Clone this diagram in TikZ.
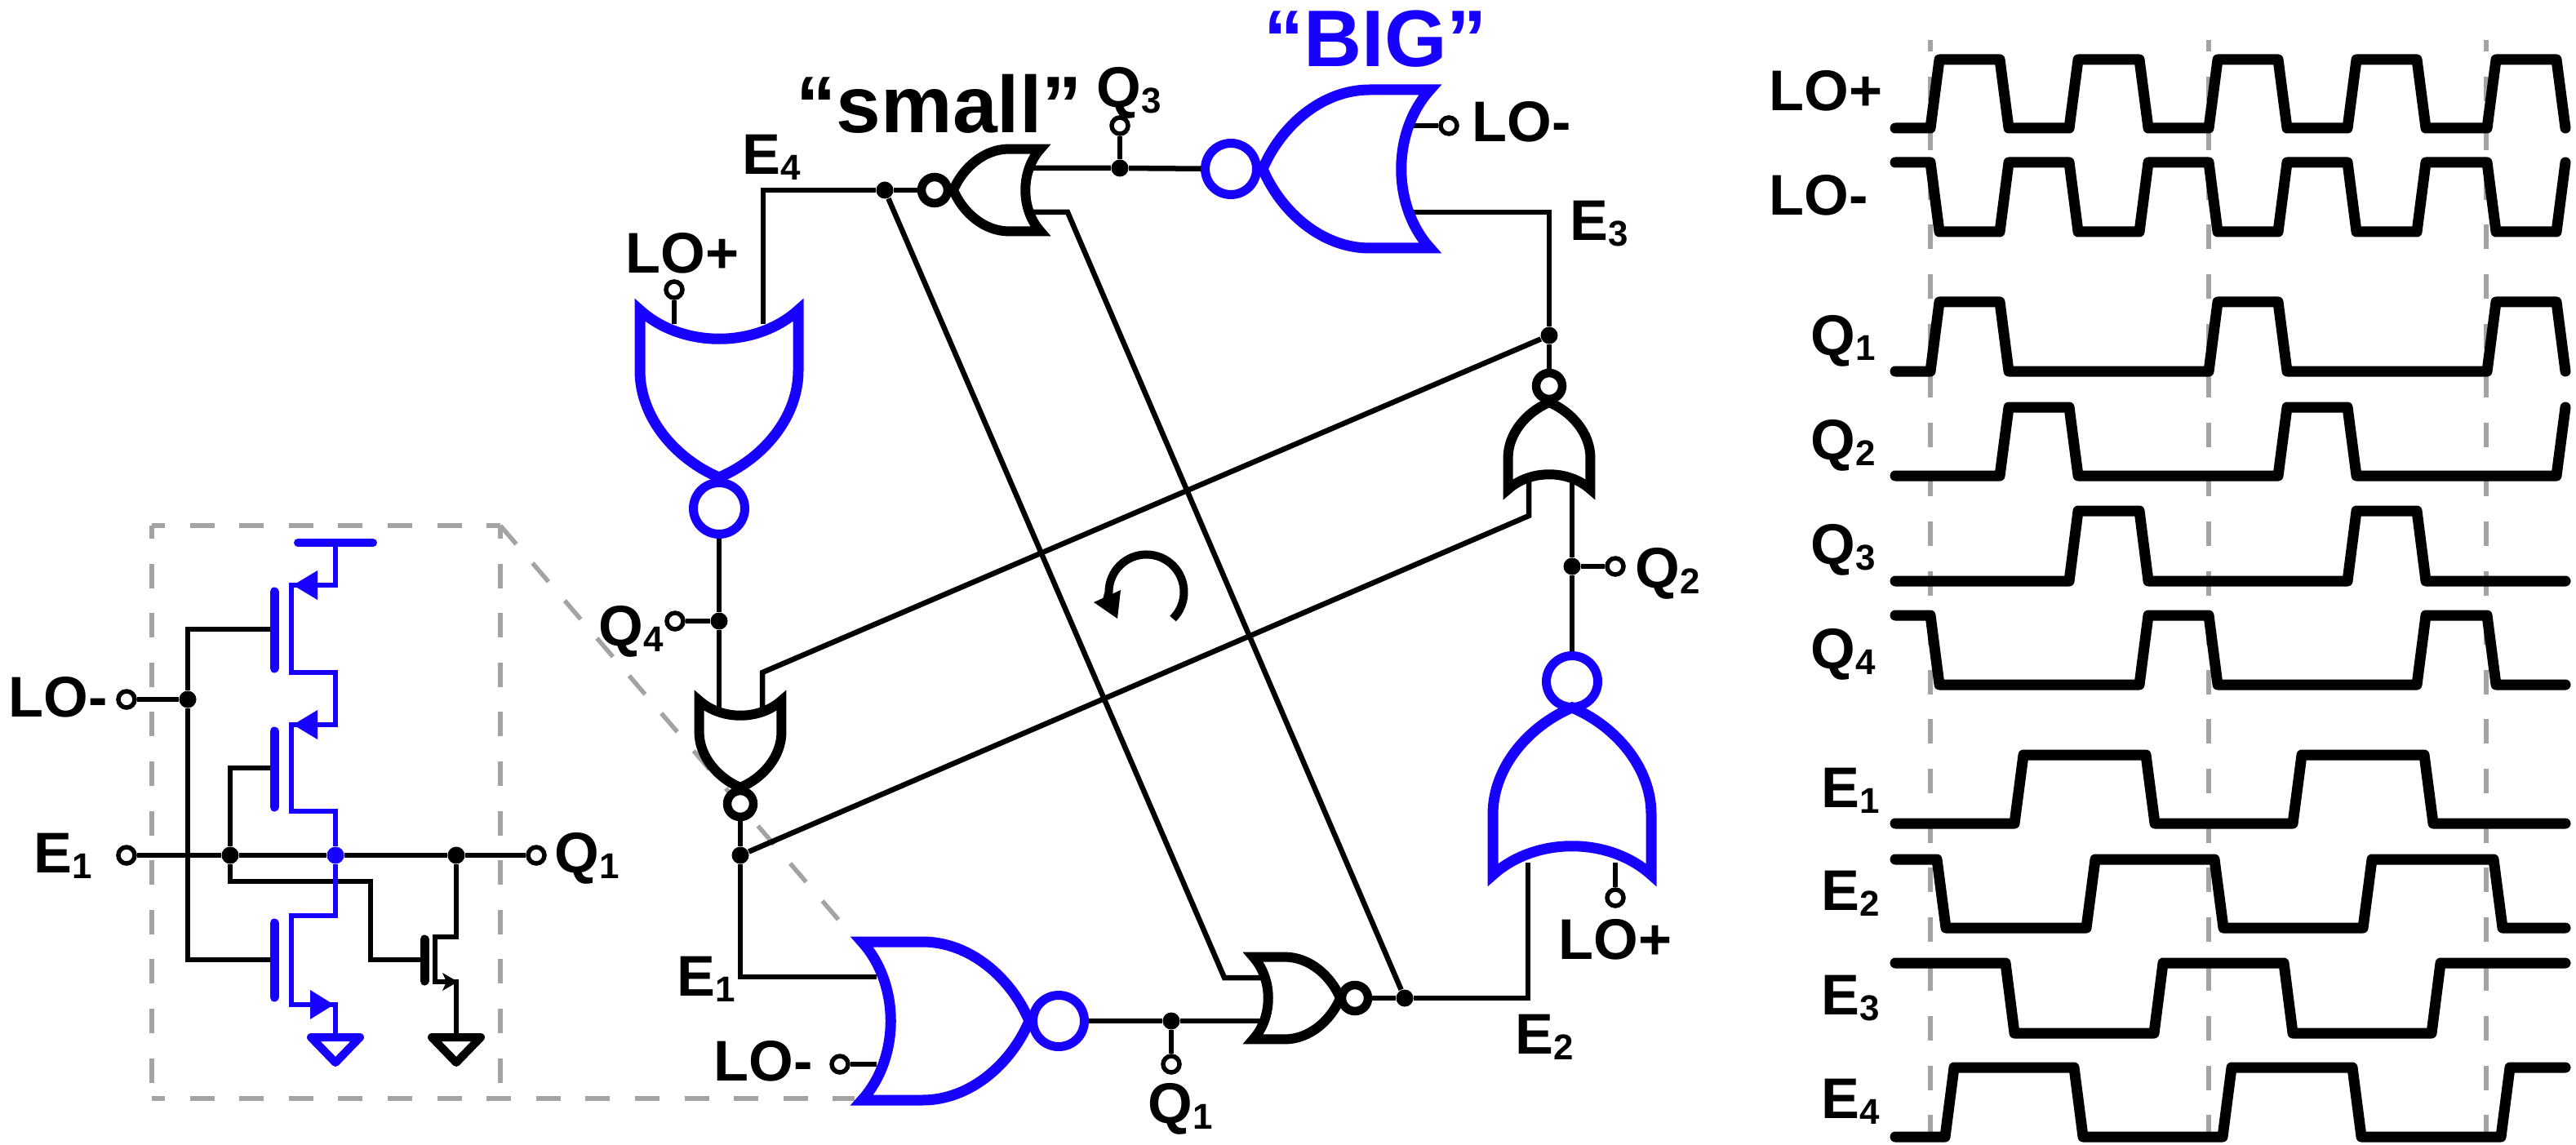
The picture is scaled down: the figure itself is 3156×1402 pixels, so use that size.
\documentclass[tikz,border=0pt]{standalone}
\usepackage{fontspec}
\setmainfont{Liberation Sans}
\definecolor{nblue}{HTML}{1800FF}
\definecolor{dashgray}{HTML}{A3A3A3}
\newcommand{\lsub}[2]{#1\raisebox{-0.7mm}{\fontsize{12.5}{12.5}\selectfont #2}}
\tikzset{
  norgate/.pic = {
    \draw[pic actions] (-131,97) .. controls (-72,97) and (-22,52) .. (0,0)
      .. controls (-22,-52) and (-72,-97) .. (-131,-97) -- (-205,-97)
      .. controls (-158,-45) and (-158,45) .. (-205,97) -- cycle;
  },
  gndmark/.pic = {
    \draw[pic actions] (-30,0) -- (30,0) -- (0,31) -- cycle;
  }
}
\begin{document}
\begin{tikzpicture}[x=0.1mm, y=-0.1mm,
  wire/.style = {draw, line width=0.65mm, line join=miter},
  bwire/.style = {wire, nblue},
  biggate/.style = {draw=nblue, line width=1.3mm, miter limit=10},
  smallgate/.style = {draw=black, line width=1.2mm, miter limit=10, scale=0.52},
  bigbub/.style = {circle, draw=nblue, fill=white, line width=1.1mm, minimum size=6.3mm, inner sep=0pt},
  smallbub/.style = {circle, draw=black, fill=white, line width=1.05mm, minimum size=3.2mm, inner sep=0pt},
  opin/.style = {circle, draw, fill=white, line width=0.55mm, minimum size=2mm, inner sep=0pt},
  jdot/.style = {circle, fill=black, minimum size=2.1mm, inner sep=0pt},
  gbar/.style = {line width=1.1mm, line cap=round},
  gnd/.style = {line width=1mm, line join=round},
  lab/.style = {anchor=base west, inner sep=0pt, font=\fontsize{20}{20}\selectfont\bfseries},
  biglab/.style = {anchor=base west, inner sep=0pt, font=\fontsize{28}{28}\selectfont\bfseries},
  gdash/.style = {draw=dashgray, line width=0.55mm, dash pattern=on 3mm off 3.06mm},
  wave/.style = {draw, line width=1.3mm, line join=round, line cap=round}]
\useasboundingbox (0,0) rectangle (3156,1402);

\draw[gdash, dash phase=1.4mm] (186,644) -- (613,644);
\draw[gdash, dash phase=1.4mm] (186,644) -- (186,1346);
\draw[gdash, dash phase=1.4mm] (613,644) -- (613,1346);
\draw[gdash, dash phase=1.4mm] (186,1346) -- (1047,1346);
\draw[gdash] (613,644) -- (1047,1150);
\foreach \x in {2365,2706,3046}
  \draw[gdash, dash phase=1.6mm] (\x,49) -- (\x,1387);

\node[opin] (pLOi) at (155,857) {};
\node[jdot] (jLOi) at (230,857) {};
\node[opin] (pEi) at (155,1048) {};
\node[jdot] (jEi) at (282,1048) {};
\node[jdot, fill=nblue] (jMi) at (411,1048) {};
\node[jdot] (jQi) at (559,1048) {};
\node[opin] (pQi) at (657,1048) {};
\coordinate (gP1) at (336,771);
\coordinate (gP2) at (336,941);
\coordinate (gN1) at (336,1176);
\coordinate (gN2) at (520,1176);
\coordinate (cN2) at (454,1080);
\coordinate (vddB) at (411,665);
\coordinate (gndB) at (411,1271);
\coordinate (gndK) at (559,1271);
\draw[wire] (pLOi) -- (jLOi);
\draw[wire] (gP1) -| (jLOi) |- (gN1);
\draw[wire] (pEi) -- (jEi) -- (jMi) -- (jQi) -- (pQi);
\draw[wire] (gP2) -| (jEi);
\draw[wire] (jEi) |- (cN2) |- (gN2);
\draw[bwire] (vddB) |- (357,717) -- (357,824) -- (411,824) -- (411,888) -- (357,888)
  -- (357,994) -- (411,994) -- (jMi);
\draw[bwire] (jMi) -- (411,1122) -- (357,1122) -- (357,1231) -- (411,1231) -- (gndB);
\draw[wire] (jQi) |- (533,1148) -- (533,1203) -- (559,1203) -- (gndK);
\draw[gbar, nblue] (336,725) -- (336,819);
\draw[gbar, nblue] (336,896) -- (336,989);
\draw[gbar, nblue] (336,1131) -- (336,1222);
\draw[gbar] (520,1151) -- (520,1202);
\draw[gbar, nblue, line width=1mm] (365,665) -- (457,665);
\fill[nblue] (359,717) -- (389,699) -- (389,735) -- cycle;
\fill[nblue] (359,888) -- (389,870) -- (389,906) -- cycle;
\fill[nblue] (409,1231) -- (380,1213) -- (380,1249) -- cycle;
\fill (561,1203) -- (542,1192) -- (547,1203) -- (542,1214) -- cycle;
\pic[gnd, draw=nblue] at (gndB) {gndmark};
\pic[gnd, draw=black] at (gndK) {gndmark};

\node[bigbub] (bL) at (881,623) {};
\node[bigbub] (bT) at (1508,207) {};
\node[bigbub] (bR) at (1926,835) {};
\node[bigbub] (bB) at (1297,1251) {};
\node[smallbub] (sT) at (1145,233) {};
\node[smallbub] (sL) at (907,985) {};
\node[smallbub] (sR) at (1898,473) {};
\node[smallbub] (sB) at (1660,1223) {};
\node[jdot] (jQ4) at (881,761) {};
\node[opin] (pQ4) at (827,761) {};
\node[jdot] (jE1) at (907,1048) {};
\node[jdot] (jE4) at (1084,233) {};
\node[jdot] (jE3) at (1898,411) {};
\node[jdot] (jQ3) at (1372,206) {};
\node[opin] (pQ3) at (1372,154) {};
\node[jdot] (jQ2) at (1926,694) {};
\node[opin] (pQ2) at (1979,694) {};
\node[jdot] (jE2) at (1721,1223) {};
\node[jdot] (jQ1) at (1435,1251) {};
\node[opin] (pQ1) at (1435,1304) {};
\node[opin] (pLOa) at (826,355) {};
\node[opin] (pLOb) at (1775,154) {};
\node[opin] (pLOc) at (1979,1100) {};
\node[opin] (pLOd) at (1029,1304) {};
\coordinate (iLa) at (881,868);
\coordinate (iLb) at (934,868);
\coordinate (cLb) at (934,824);
\coordinate (iLc) at (826,397);
\coordinate (iLe) at (935,397);
\coordinate (iBa) at (1074,1197);
\coordinate (iBb) at (1074,1304);
\coordinate (cRa) at (1873,632);
\coordinate (iRa) at (1873,587);
\coordinate (iRb) at (1926,585);
\coordinate (iRc) at (1872,1057);
\coordinate (iRd) at (1979,1057);
\coordinate (iTa) at (1732,260);
\coordinate (iTb) at (1732,154);
\coordinate (iTc) at (1264,206);
\coordinate (iTd) at (1264,260);
\coordinate (cTd) at (1308,260);
\coordinate (cSa) at (1500,1198);
\coordinate (iSa) at (1547,1198);
\coordinate (iSb) at (1547,1251);
\draw[wire] (bL) -- (jQ4) -- (iLa);
\draw[wire] (pQ4) -- (jQ4);
\draw[wire] (iLb) -- (cLb) -- (jE3);
\draw[wire] (sL) -- (jE1);
\draw[wire] (jE1) |- (iBa);
\draw[wire] (jE1) -- (cRa) -- (iRa);
\draw[wire] (jE3) -- (sR);
\draw[wire] (jE3) |- (iTa);
\draw[wire] (iRb) -- (jQ2) -- (bR);
\draw[wire] (jQ2) -- (pQ2);
\draw[wire] (iLe) |- (jE4);
\draw[wire] (jE4) -- (sT);
\draw[wire] (pLOa) -- (iLc);
\draw[wire] (jE4) -- (cSa) -- (iSa);
\draw[wire] (sB) -- (jE2);
\draw[wire] (jE2) -| (iRc);
\draw[wire] (jE2) -- (cTd) -- (iTd);
\draw[wire] (iTc) -- (jQ3) -- (bT);
\draw[wire] (jQ3) -- (pQ3);
\draw[wire] (pLOb) -- (iTb);
\draw[wire] (bB) -- (jQ1) -- (iSb);
\draw[wire] (jQ1) -- (pQ1);
\draw[wire] (pLOd) -- (iBb);
\draw[wire] (pLOc) -- (iRd);
\pic[biggate, rotate=-90] at (881,585) {norgate};
\pic[biggate, rotate=180] at (1547,207) {norgate};
\pic[biggate, rotate=90] at (1926,867) {norgate};
\pic[biggate] at (1261,1251) {norgate};
\pic[smallgate, rotate=180] at (1168,233) {norgate};
\pic[smallgate, rotate=-90] at (907,965) {norgate};
\pic[smallgate, rotate=90] at (1898,493) {norgate};
\pic[smallgate] at (1642,1223) {norgate};
\draw[line width=1mm] (1437,758) arc[start angle=45, end angle=-180, radius=46] -- (1356,735);
\fill (1340,738) -- (1373,723) -- (1369,758) -- cycle;

\node[lab] (tLOi) at (10,878) {LO-};
\node[lab] (tEi) at (41,1069) {\lsub{E}{1}};
\node[lab] (tQi) at (679,1069) {\lsub{Q}{1}};
\node[lab] (tQ4) at (733,791) {\lsub{Q}{4}};
\node[lab] (tE1) at (829,1220) {\lsub{E}{1}};
\node[lab] (tLOd) at (874,1324) {LO-};
\node[lab] (tQ1) at (1406,1376) {\lsub{Q}{1}};
\node[lab] (tE2) at (1856,1291) {\lsub{E}{2}};
\node[lab] (tLOc) at (1909,1175) {LO+};
\node[lab] (tQ2) at (2003,720) {\lsub{Q}{2}};
\node[lab] (tQ3) at (1343,132) {\lsub{Q}{3}};
\node[lab] (tE3) at (1923,295) {\lsub{E}{3}};
\node[lab] (tE4) at (909,214) {\lsub{E}{4}};
\node[lab] (tLOa) at (766,335) {LO+};
\node[lab] (tLOb) at (1803,174) {LO-};
\node[biglab] (tsmall) at (975,163) {“small”};
\node[biglab, text=nblue] (tbig) at (1548,82) {“BIG”};

\node[lab] (wLOp) at (2167,136) {LO+};
\node[lab] (wLOm) at (2167,264) {LO-};
\node[lab] (wQ1) at (2218,435) {\lsub{Q}{1}};
\node[lab] (wQ2) at (2218,563) {\lsub{Q}{2}};
\node[lab] (wQ3) at (2218,691) {\lsub{Q}{3}};
\node[lab] (wQ4) at (2218,819) {\lsub{Q}{4}};
\node[lab] (wE1) at (2231,989) {\lsub{E}{1}};
\node[lab] (wE2) at (2231,1115) {\lsub{E}{2}};
\node[lab] (wE3) at (2231,1243) {\lsub{E}{3}};
\node[lab] (wE4) at (2231,1370) {\lsub{E}{4}};

\draw[wave] (2322,157) -- (2365,157) -- (2376,73) -- (2450,73) -- (2461,157) -- (2535,157) -- (2546,73)
  -- (2621,73) -- (2632,157) -- (2706,157) -- (2717,73) -- (2791,73) -- (2802,157) -- (2876,157)
  -- (2887,73) -- (2961,73) -- (2972,157) -- (3047,157) -- (3058,73) -- (3132,73) -- (3143,157);
\draw[wave] (2322,199) -- (2365,199) -- (2376,284) -- (2450,284) -- (2461,199) -- (2535,199) -- (2546,284)
  -- (2621,284) -- (2632,199) -- (2706,199) -- (2717,284) -- (2791,284) -- (2802,199) -- (2876,199)
  -- (2887,284) -- (2961,284) -- (2972,199) -- (3047,199) -- (3058,284) -- (3132,284) -- (3143,199);
\draw[wave] (2322,455) -- (2365,455) -- (2376,370) -- (2450,370) -- (2461,455) -- (2706,455) -- (2717,370)
  -- (2791,370) -- (2802,455) -- (3047,455) -- (3058,370) -- (3132,370) -- (3143,455);
\draw[wave] (2322,583) -- (2450,583) -- (2461,499) -- (2535,499) -- (2546,583) -- (2791,583) -- (2802,499)
  -- (2876,499) -- (2887,583) -- (3132,583) -- (3143,499);
\draw[wave] (2322,712) -- (2535,712) -- (2546,626) -- (2621,626) -- (2632,712) -- (2876,712) -- (2887,626)
  -- (2961,626) -- (2972,712) -- (3143,712);
\draw[wave] (2322,754) -- (2365,754) -- (2376,839) -- (2621,839) -- (2632,754) -- (2706,754) -- (2717,839)
  -- (2961,839) -- (2972,754) -- (3047,754) -- (3058,839) -- (3143,839);
\draw[wave] (2322,1009) -- (2468,1009) -- (2479,925) -- (2629,925) -- (2640,1009) -- (2809,1009)
  -- (2820,925) -- (2970,925) -- (2981,1009) -- (3143,1009);
\draw[wave] (2322,1053) -- (2373,1053) -- (2384,1137) -- (2556,1137) -- (2567,1053) -- (2713,1053)
  -- (2724,1137) -- (2895,1137) -- (2906,1053) -- (3055,1053) -- (3066,1137) -- (3143,1137);
\draw[wave] (2322,1180) -- (2457,1180) -- (2468,1266) -- (2639,1266) -- (2650,1180) -- (2798,1180)
  -- (2809,1266) -- (2979,1266) -- (2990,1180) -- (3143,1180);
\draw[wave] (2322,1393) -- (2383,1393) -- (2394,1308) -- (2541,1308) -- (2552,1393) -- (2723,1393)
  -- (2734,1308) -- (2882,1308) -- (2893,1393) -- (3064,1393) -- (3075,1308) -- (3143,1308);
\end{tikzpicture}
\end{document}
